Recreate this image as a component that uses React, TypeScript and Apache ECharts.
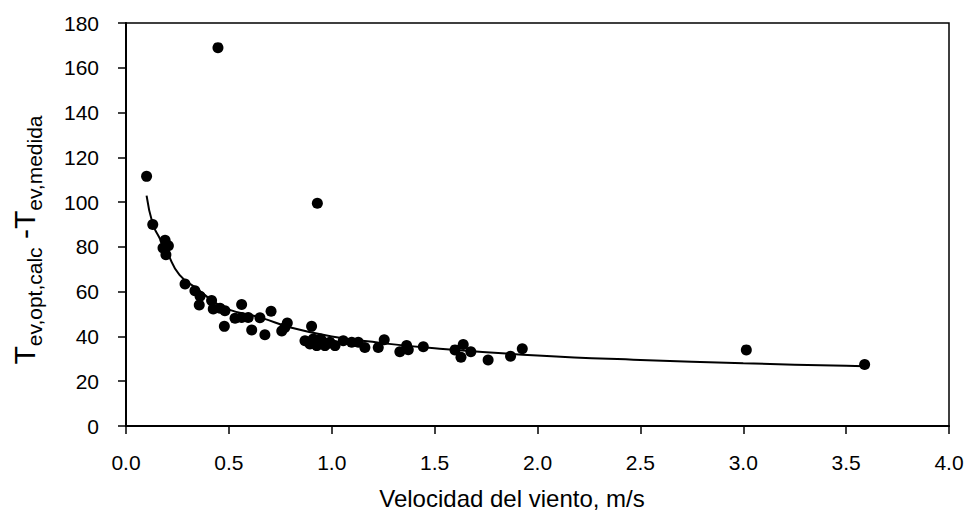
import React, { useEffect, useRef } from "react";
import * as echarts from "echarts";

// Measured points: wind speed (m/s) and temperature difference
const windSpeed = [
  0.10, 0.447, 0.93, 3.015, 3.59, 0.13, 0.19, 0.18, 0.206, 0.194,
  0.287, 0.335, 0.36, 0.356, 0.416, 0.424, 0.457, 0.481, 0.562, 0.478,
  0.53, 0.562, 0.594, 0.611, 0.651, 0.705, 0.675, 0.757, 0.784, 0.772,
  0.902, 0.87, 0.91, 0.894, 0.927, 0.959, 0.991, 1.016, 0.967, 1.056,
  1.097, 1.129, 1.161, 1.226, 0.946, 1.255, 1.331, 1.372, 1.364, 1.445,
  1.599, 1.639, 1.628, 1.676, 1.76, 1.869, 1.926, 0.935, 0.98,
];
const tempDiff = [
  111.5, 169, 99.5, 34, 27.5, 90, 83, 79.5, 80.5, 76.5,
  63.4, 60.4, 58, 54, 56, 52.3, 52.6, 51.5, 54.3, 44.5,
  48.1, 48.5, 48.5, 42.9, 48.3, 51.3, 40.8, 42.4, 46, 44,
  44.5, 38.1, 38.9, 36.6, 35.9, 37.4, 37.4, 35.9, 35.9, 38.1,
  37.4, 37.4, 35.1, 35.1, 38.9, 38.5, 33.2, 34.1, 36, 35.4,
  34, 36.4, 30.7, 33.2, 29.5, 31.2, 34.5, 36.5, 36.8,
];

// Fitted curve
const fitX = [0.1, 0.13, 0.16, 0.2, 0.26, 0.35, 0.42, 0.5, 0.65, 0.8, 1.0, 1.23, 1.5, 2.0, 2.5, 3.0, 3.5, 3.59];
const fitY = [102.9, 90.2, 84.5, 77.5, 67.5, 61, 56, 52, 48.5, 44, 40, 37.2, 34.7, 31.5, 29.5, 28, 26.9, 26.7];

const xTicks = { min: 0, max: 4, interval: 0.5 };
const yTicks = { min: 0, max: 180, interval: 20 };

const FONT = "'Liberation Sans', Arial, sans-serif";

export default function App() {
  const ref = useRef<HTMLDivElement>(null);
  useEffect(() => {
    if (!ref.current) return;
    const chart = echarts.init(ref.current, null, { renderer: "svg" });
    const points = windSpeed.map((x, i) => [x, tempDiff[i]]);
    const fit = fitX.map((x, i) => [x, fitY[i]]);
    chart.setOption({
      animation: false,
      backgroundColor: "#ffffff",
      grid: {
        left: 126,
        right: 20,
        top: 23,
        bottom: 90,
        show: true,
        borderColor: "#000",
        borderWidth: 1.5,
        backgroundColor: "transparent",
      },
      xAxis: {
        type: "value",
        min: xTicks.min,
        max: xTicks.max,
        interval: xTicks.interval,
        axisLine: { show: true, lineStyle: { color: "#000", width: 2 } },
        axisTick: { show: true, inside: false, length: 8, lineStyle: { color: "#000", width: 1.5 } },
        splitLine: { show: false },
        axisLabel: {
          color: "#000",
          fontFamily: FONT,
          fontSize: 21,
          margin: 26,
          formatter: (v: number) => v.toFixed(1),
        },
      },
      yAxis: {
        type: "value",
        min: yTicks.min,
        max: yTicks.max,
        interval: yTicks.interval,
        axisLine: { show: true, lineStyle: { color: "#000", width: 2 } },
        axisTick: { show: true, inside: false, length: 8, lineStyle: { color: "#000", width: 1.5 } },
        splitLine: { show: false },
        axisLabel: {
          color: "#000",
          fontFamily: FONT,
          fontSize: 21,
          margin: 27,
        },
      },
      graphic: [
        {
          type: "text",
          x: 512,
          y: 498,
          style: {
            text: "Velocidad del viento, m/s",
            fontFamily: FONT,
            fontSize: 24,
            fill: "#000",
            align: "center",
            verticalAlign: "middle",
          },
        },
        {
          type: "text",
          x: 26,
          y: 240,
          rotation: Math.PI / 2,
          style: {
            text: "{T|T}{s|ev,opt,calc}{T| -T}{s|ev,medida}",
            fontFamily: FONT,
            fill: "#000",
            align: "center",
            verticalAlign: "middle",
            rich: {
              T: { fontSize: 30, fontFamily: FONT, fill: "#000", verticalAlign: "bottom", padding: [0, 0, 6, 0], lineHeight: 38 },
              s: { fontSize: 21, fontFamily: FONT, fill: "#000", verticalAlign: "bottom", lineHeight: 38 },
            },
          },
        },
      ],
      series: [
        {
          type: "line",
          data: fit,
          smooth: true,
          showSymbol: false,
          symbol: "none",
          lineStyle: { color: "#000", width: 2 },
          z: 2,
        },
        {
          type: "scatter",
          data: points,
          symbol: "circle",
          symbolSize: 11,
          itemStyle: { color: "#000", opacity: 1 },
          z: 3,
        },
      ],
    });
    return () => chart.dispose();
  }, []);
  return <div ref={ref} style={{ width: 969, height: 516, position: "absolute", left: 0, top: 0 }} />;
}
